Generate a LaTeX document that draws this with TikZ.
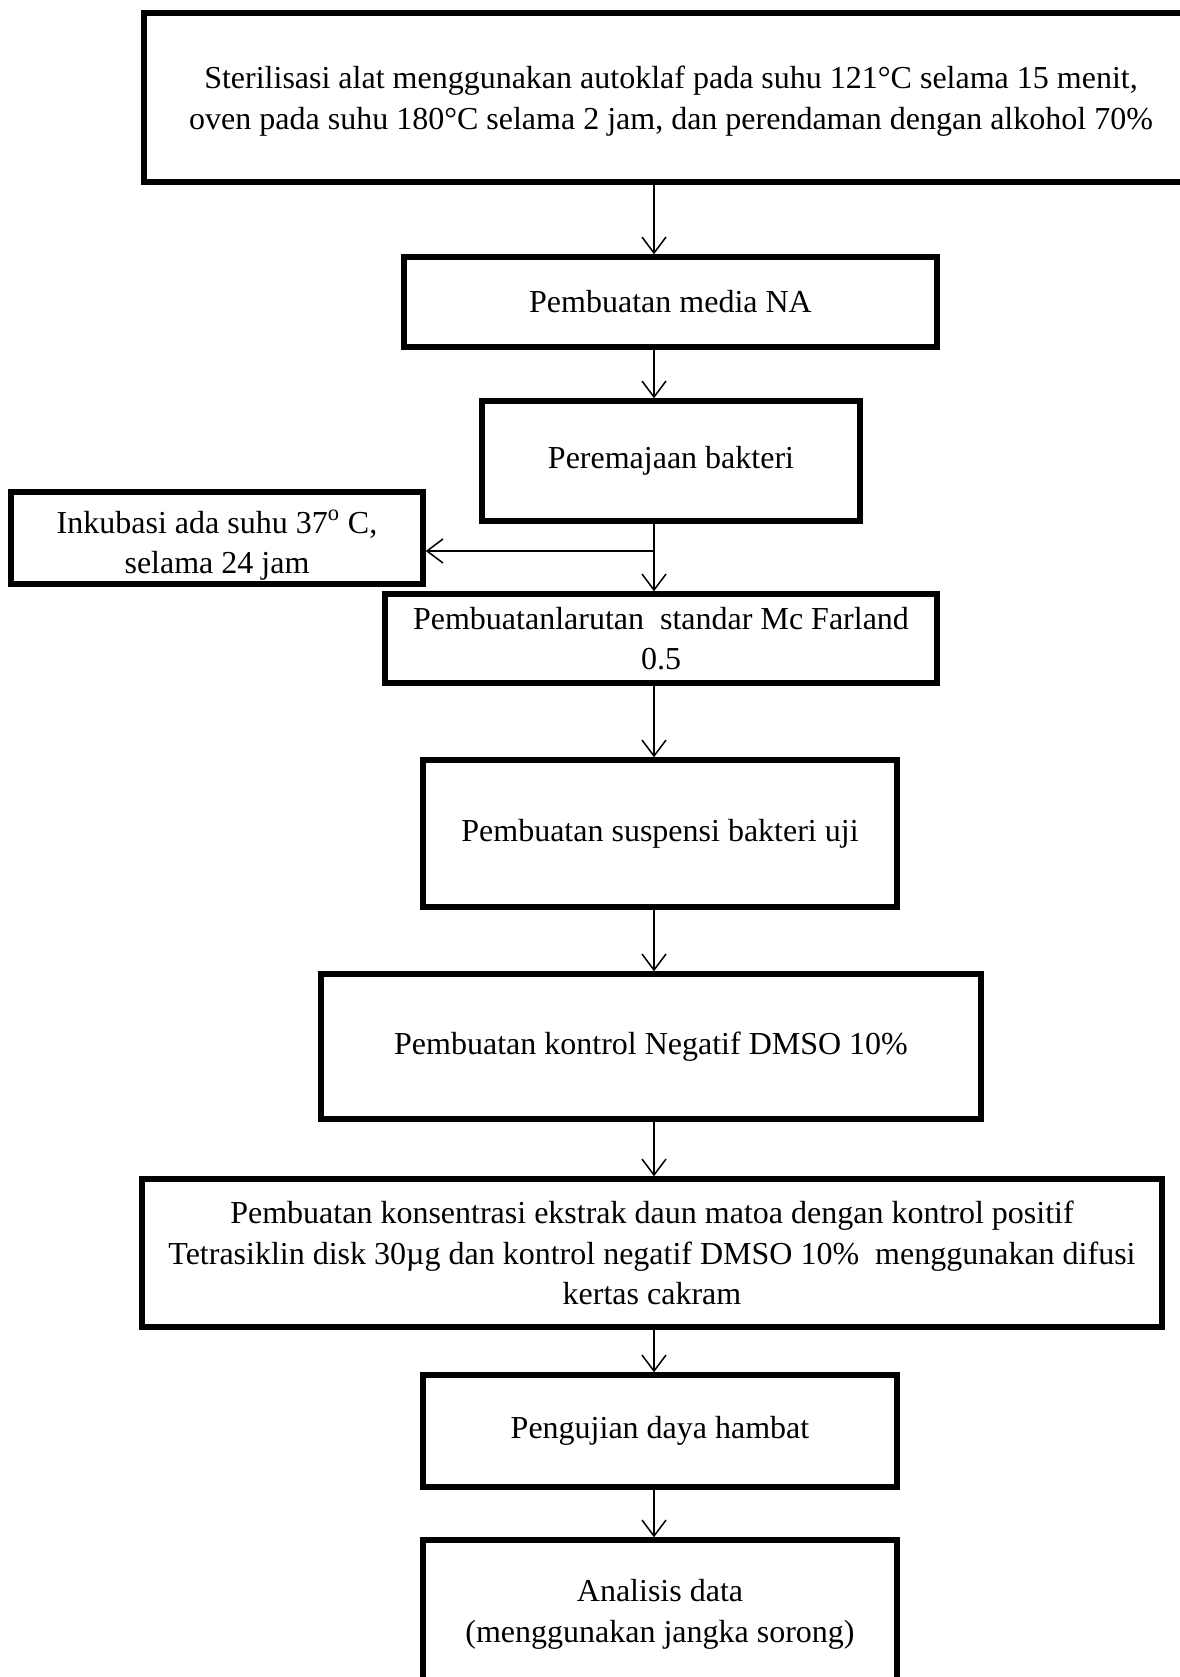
\documentclass[tikz,border=0pt]{standalone}
\usepackage{fontspec}
\setmainfont{Liberation Serif}
\usetikzlibrary{positioning, arrows.meta}

\begin{document}
\begin{tikzpicture}[x=0.5pt, y=-0.5pt,
        kotak/.style={draw, line width=2.7pt, align=center, inner sep=0pt, font=\fontsize{16}{20.2}\selectfont},
        panah/.style={-{Straight Barb[length=8pt, width=12pt]}, line width=0.75pt}]
            \useasboundingbox (0,0) rectangle (1179,1677);

            \node[kotak, minimum width=527pt, minimum height=84.5pt] (steril) at (671,97.5) {\rule{0pt}{15pt}Sterilisasi alat menggunakan autoklaf pada suhu 121°C selama 15 menit,\\oven pada suhu 180°C selama 2 jam, dan perendaman dengan alkohol 70\%};
            \node[kotak, minimum width=266.5pt, minimum height=45pt] (media) at (670.5,302) {Pembuatan media NA};
            \node[kotak, minimum width=189pt, minimum height=60pt] (remaja) at (671,461) {Peremajaan bakteri};
            \node[kotak, minimum width=206pt, minimum height=46pt] (inkubasi) at (217,538) {\rule{0pt}{19pt}Inkubasi ada suhu 37\textsuperscript{o} C,\\selama 24 jam};
            \node[kotak, minimum width=276pt, minimum height=44.5pt] (farland) at (661,638.5) {Pembuatanlarutan\ \ standar Mc Farland\\0.5};
            \node[kotak, minimum width=237pt, minimum height=73.5pt] (suspensi) at (660,833.5) {Pembuatan suspensi bakteri uji};
            \node[kotak, minimum width=330pt, minimum height=72.5pt] (negatif) at (651,1046.5) {Pembuatan kontrol Negatif DMSO 10\%};
            \node[kotak, minimum width=510pt, minimum height=74pt] (konsentrasi) at (652,1253) {Pembuatan konsentrasi ekstrak daun matoa dengan kontrol positif\\Tetrasiklin disk 30µg dan kontrol negatif DMSO 10\%\ \ menggunakan difusi\\kertas cakram};
            \node[kotak, minimum width=237pt, minimum height=56pt] (hambat) at (660,1431) {Pengujian daya hambat};
            \node[kotak, minimum width=237pt, minimum height=74.5pt] (analisis) at (660,1614.5) {Analisis data\\(menggunakan jangka sorong)};

            \coordinate (jalur) at (654,0);
            \coordinate (cabang) at (654,551);

            % Draw edges
            \draw[panah] (steril.south -| jalur) -- (media.north -| jalur);
            \draw[panah] (media.south -| jalur) -- (remaja.north -| jalur);
            \draw[panah] (remaja.south -| jalur) -- (farland.north -| jalur);
            \draw[panah] (cabang) -- (inkubasi.east |- cabang);
            \draw[panah] (farland.south -| jalur) -- (suspensi.north -| jalur);
            \draw[panah] (suspensi.south -| jalur) -- (negatif.north -| jalur);
            \draw[panah] (negatif.south -| jalur) -- (konsentrasi.north -| jalur);
            \draw[panah] (konsentrasi.south -| jalur) -- (hambat.north -| jalur);
            \draw[panah] (hambat.south -| jalur) -- (analisis.north -| jalur);

        \end{tikzpicture}
\end{document}
